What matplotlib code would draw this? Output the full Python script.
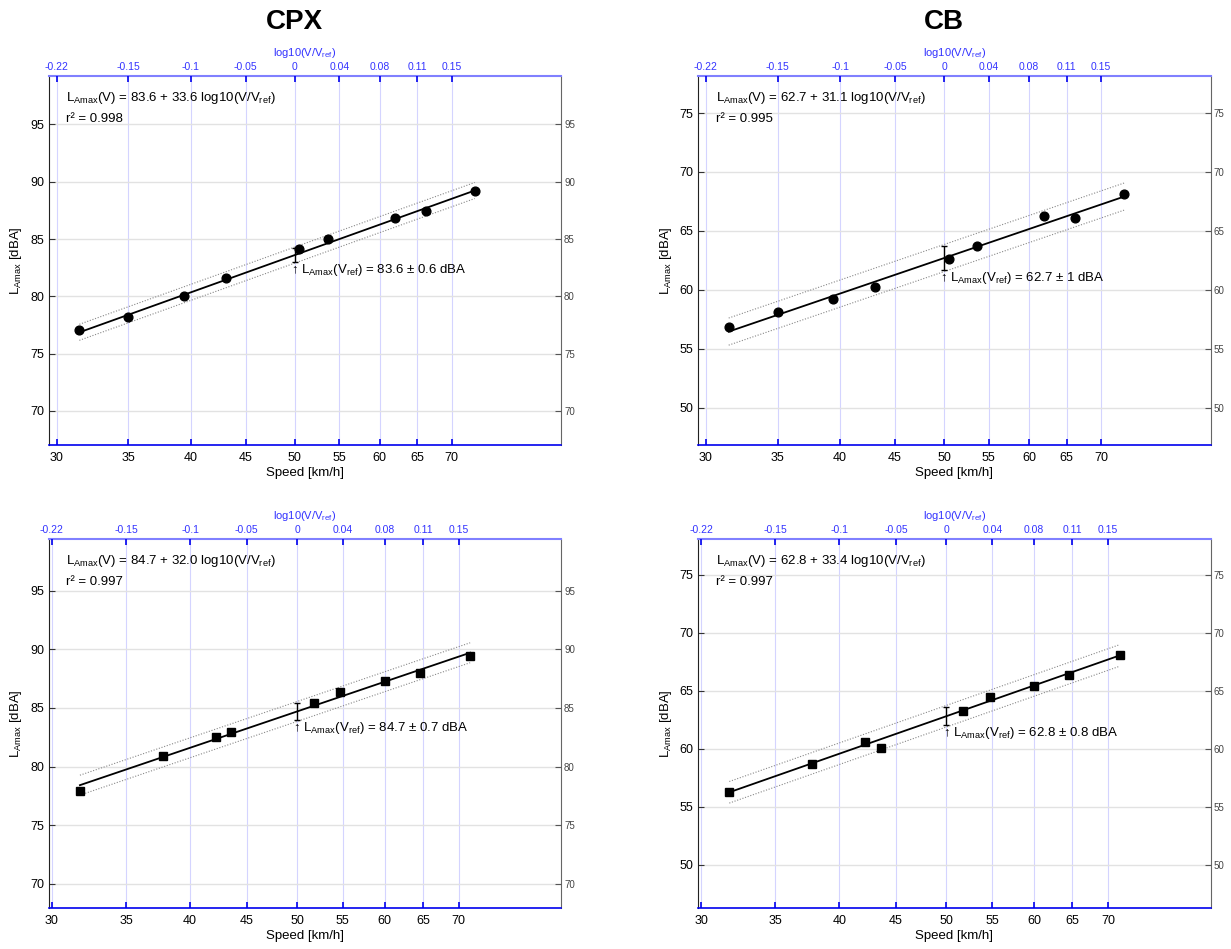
import numpy as np
import matplotlib
matplotlib.use('Agg')
import matplotlib.pyplot as plt
from matplotlib.transforms import blended_transform_factory

plt.rcParams['font.family'] = ['Liberation Sans', 'DejaVu Sans']
plt.rcParams['mathtext.fontset'] = 'custom'
plt.rcParams['mathtext.rm'] = 'Liberation Sans'
plt.rcParams['mathtext.it'] = 'Liberation Sans:italic'

# pass-by speeds [km/h]
speed_top = [31.5, 35.0, 39.4, 43.1, 50.5, 53.65, 62.0, 66.25, 73.55]
speed_bot = [31.8, 37.8, 42.2, 43.6, 51.8, 54.7, 60.0, 64.55, 71.7]

# measured LAmax [dBA]
cpx_top = [77.03, 78.20, 80.0, 81.57, 84.13, 85.0, 86.8, 87.47, 89.22]
cb_top = [56.84, 58.11, 59.21, 60.20, 62.60, 63.70, 66.27, 66.13, 68.14]
cpx_bot = [77.93, 80.91, 82.52, 82.97, 85.41, 86.32, 87.31, 87.96, 89.41]
cb_bot = [56.26, 58.68, 60.60, 60.09, 63.25, 64.45, 65.40, 66.38, 68.07]

# regression: intercept, slope, r2, uncertainty at Vref, band half width
fit_cpx_top = (83.6, 33.6, 0.998, 0.6, 0.7)
fit_cb_top = (62.7, 31.1, 0.995, 1.0, 1.15)
fit_cpx_bot = (84.7, 32.0, 0.997, 0.7, 0.85)
fit_cb_bot = (62.8, 33.4, 0.997, 0.8, 0.93)

v_ref = 50
speed_ticks = [30, 35, 40, 45, 50, 55, 60, 65, 70]
log_tick_labels = ['-0.22', '-0.15', '-0.1', '-0.05', '0', '0.04', '0.08', '0.11', '0.15']

BLUE = '#0000ee'
LBLUE = '#8080ff'


def fmt(x):
    return f"{x:g}"


def panel(fig, rect, speeds, levels, fit, marker, title=None):
    a, b, r2, u, band = fit
    ax = fig.add_axes(rect)
    ax.set_xscale('log')
    ax.set_xlim(min(speeds) - 2, max(speeds) + 15)
    ax.set_ylim(min(levels) - 10, max(levels) + 10)

    ax.set_xticks(speed_ticks)
    ax.set_xticklabels([str(t) for t in speed_ticks])
    ax.xaxis.set_minor_locator(matplotlib.ticker.NullLocator())
    ax.yaxis.set_major_locator(matplotlib.ticker.MultipleLocator(5))

    # grid
    ax.grid(axis='y', color='#e2e2e2', lw=1.0)
    ax.grid(axis='x', color='#d4d4ff', lw=0.8)
    ax.set_axisbelow(True)

    # fit line and band
    vv = np.array([min(speeds), max(speeds)])
    lv = a + b * np.log10(vv / v_ref)
    ax.plot(vv, lv, color='black', lw=1.3, zorder=3)
    ax.plot(vv, lv + band, color='#888888', lw=0.8, ls=(0, (1, 1.5)), zorder=2)
    ax.plot(vv, lv - band, color='#888888', lw=0.8, ls=(0, (1, 1.5)), zorder=2)

    ms = 6.3 if marker == 'o' else 5.2
    ax.plot(speeds, levels, ls='none', marker=marker, color='black', ms=ms, zorder=4)

    ax.errorbar([v_ref], [a], yerr=[u], color='black', lw=1.0, capsize=2.5, capthick=1.0, zorder=5)
    ax.text(v_ref - 0.4, a - u, u'\u2191 L$_{\\mathrm{Amax}}$(V$_{\\mathrm{ref}}$) = '
            + fmt(a) + u' \u00b1 ' + fmt(u) + ' dBA',
            ha='left', va='top', fontsize=9.5, zorder=6)

    ax.text(0.034, 0.94, 'L$_{\\mathrm{Amax}}$(V) = ' + f"{a:.1f}" + ' + ' + f"{b:.1f}"
            + ' log10(V/V$_{\\mathrm{ref}}$)', transform=ax.transAxes, fontsize=9.5, va='center')
    ax.text(0.034, 0.883, u'r\u00b2 = ' + f"{r2:.3f}", transform=ax.transAxes, fontsize=9.5, va='center')

    ax.set_xlabel('Speed [km/h]', fontsize=9.5, labelpad=2)
    ax.set_ylabel('L$_{\\mathrm{Amax}}$ [dBA]', fontsize=9.5, labelpad=4)
    ax.tick_params(axis='x', direction='in', length=4, width=1.2, color=BLUE, labelsize=9, pad=5,
                   top=False)
    ax.tick_params(axis='y', direction='in', length=4, width=0.8, color='#333333', labelsize=9,
                   right=False)
    ax.spines['bottom'].set_color(BLUE)
    ax.spines['bottom'].set_linewidth(1.2)
    ax.spines['left'].set_color('#222222')
    ax.spines['right'].set_color('#666666')
    ax.spines['top'].set_color(LBLUE)
    ax.spines['top'].set_linewidth(1.5)

    # top axis in log10(V/Vref)
    top = ax.twiny()
    top.set_xscale('log')
    top.set_xlim(ax.get_xlim())
    top.set_xticks(speed_ticks)
    top.set_xticklabels(log_tick_labels)
    top.xaxis.set_minor_locator(matplotlib.ticker.NullLocator())
    top.tick_params(axis='x', direction='in', length=4, width=1.2, color=BLUE, labelsize=7.5,
                    labelcolor='#3333ff', pad=3)
    top.set_xlabel('log10(V/V$_{\\mathrm{ref}}$)', fontsize=8, color='#3333ff', labelpad=4)
    for s in top.spines.values():
        s.set_visible(False)

    # right axis
    right = ax.twinx()
    right.set_ylim(ax.get_ylim())
    right.yaxis.set_major_locator(matplotlib.ticker.MultipleLocator(5))
    right.tick_params(axis='y', direction='in', length=4, width=0.8, color='#555555', labelsize=7,
                      labelcolor='#444444', pad=2)
    for s in right.spines.values():
        s.set_visible(False)

    if title:
        tr = blended_transform_factory(ax.transData, ax.transAxes)
        ax.text(v_ref, 1.146, title, transform=tr, ha='center', va='center',
                fontsize=20, fontweight='bold')
    return ax


fig = plt.figure(figsize=(12.31, 9.49), dpi=100)

panel(fig, [0.0396, 0.5311, 0.4164, 0.3888], speed_top, cpx_top, fit_cpx_top, 'o', 'CPX')
panel(fig, [0.5671, 0.5311, 0.4164, 0.3888], speed_top, cb_top, fit_cb_top, 'o', 'CB')
panel(fig, [0.0396, 0.0432, 0.4164, 0.3888], speed_bot, cpx_bot, fit_cpx_bot, 's')
panel(fig, [0.5671, 0.0432, 0.4164, 0.3888], speed_bot, cb_bot, fit_cb_bot, 's')

fig.savefig('out.png', dpi=100)
